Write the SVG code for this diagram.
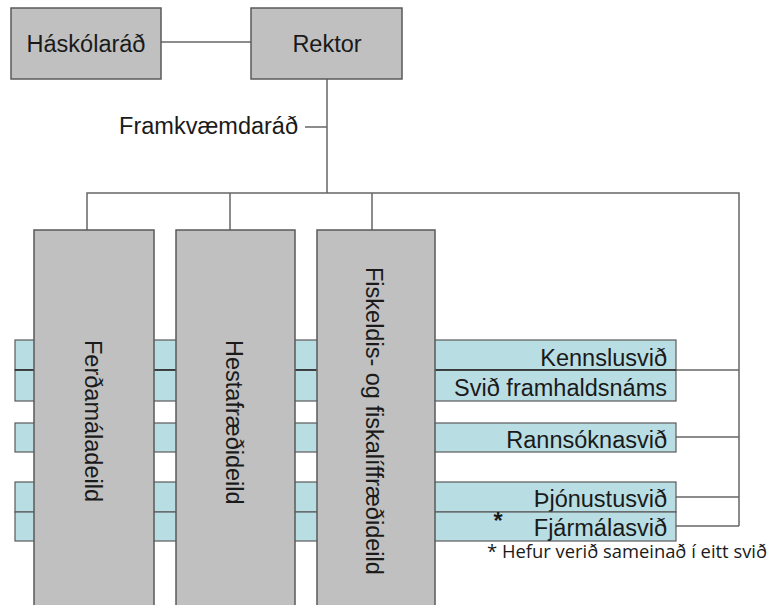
<svg xmlns="http://www.w3.org/2000/svg" width="773" height="605" viewBox="0 0 773 605">
  <style>
    .box { fill: #c0c0c0; stroke: #5a5a5a; stroke-width: 1.5; }
    .band { fill: #b8dde3; stroke: #5a5a5a; stroke-width: 1.2; }
    .lbl { font-family: "Liberation Sans", Arial, sans-serif; font-size: 23.5px; fill: #1a1a1a; }
    .mid { text-anchor: middle; }
    .end { text-anchor: end; }
    .wire { fill: none; stroke: #666; stroke-width: 1.5; }
    .note { font-family: "Open Sans", "Noto Sans", sans-serif; font-size: 17.5px; fill: #1a1a1a; }
  </style>

  <!-- connectors -->
  <g id="connectors" class="wire">
    <line x1="161" y1="42" x2="251" y2="42"/>
    <line x1="327" y1="79" x2="327" y2="193"/>
    <line x1="305" y1="127" x2="327" y2="127"/>
    <polyline points="87,230 87,193 739,193 739,526"/>
    <line x1="230" y1="193" x2="230" y2="230"/>
    <line x1="372" y1="193" x2="372" y2="230"/>
    <line x1="676" y1="370" x2="739" y2="370"/>
    <line x1="676" y1="437" x2="739" y2="437"/>
    <line x1="676" y1="497" x2="739" y2="497"/>
    <line x1="676" y1="526" x2="739" y2="526"/>
  </g>

  <!-- top level -->
  <g id="haskolarad">
    <rect class="box" x="11" y="8" width="150" height="71"/>
    <text class="lbl mid" x="86" y="52">Háskólaráð</text>
  </g>
  <g id="rektor">
    <rect class="box" x="251" y="8" width="151" height="71"/>
    <text class="lbl mid" x="327" y="52">Rektor</text>
  </g>
  <g id="framkvaemdarad">
    <text class="lbl end" x="298" y="134">Framkvæmdaráð</text>
  </g>

  <!-- service units: bands running behind the departments -->
  <g id="kennslusvid">
    <rect class="band" x="15" y="340" width="661" height="30"/>
    <text class="lbl end" x="667" y="366">Kennslusvið</text>
  </g>
  <g id="svid-framhaldsnams">
    <rect class="band" x="15" y="370" width="661" height="31"/>
    <text class="lbl end" x="667" y="396">Svið framhaldsnáms</text>
  </g>
  <line x1="15" y1="370" x2="676" y2="370" stroke="#2a2a2a" stroke-width="1.6"/>
  <g id="rannsoknasvid">
    <rect class="band" x="15" y="423" width="661" height="29"/>
    <text class="lbl end" x="667" y="448">Rannsóknasvið</text>
  </g>
  <g id="thjonustusvid">
    <rect class="band" x="15" y="482" width="661" height="30"/>
    <text class="lbl end" x="667" y="507">Þjónustusvið</text>
  </g>
  <g id="fjarmalasvid">
    <rect class="band" x="15" y="512" width="661" height="29"/>
    <text class="lbl end" x="667" y="536">Fjármálasvið</text>
  </g>

  <!-- departments -->
  <g id="ferdamaladeild">
    <rect class="box" x="34" y="230" width="120" height="385"/>
    <text class="lbl" transform="translate(85,340) rotate(90)">Ferðamáladeild</text>
  </g>
  <g id="hestafraedideild">
    <rect class="box" x="176" y="230" width="119" height="385"/>
    <text class="lbl" transform="translate(226,340) rotate(90)">Hestafræðideild</text>
  </g>
  <g id="fiskeldisdeild">
    <rect class="box" x="317" y="230" width="118" height="385"/>
    <text class="lbl" transform="translate(366,267) rotate(90)">Fiskeldis- og fiskalíffræðideild</text>
  </g>

  <!-- merged-units remark -->
  <g id="note">
    <text class="lbl mid" x="498" y="529" font-size="27" font-weight="bold">*</text>
    <text class="note" x="487" y="558" textLength="280" lengthAdjust="spacingAndGlyphs">* Hefur verið sameinað í eitt svið</text>
  </g>
</svg>
